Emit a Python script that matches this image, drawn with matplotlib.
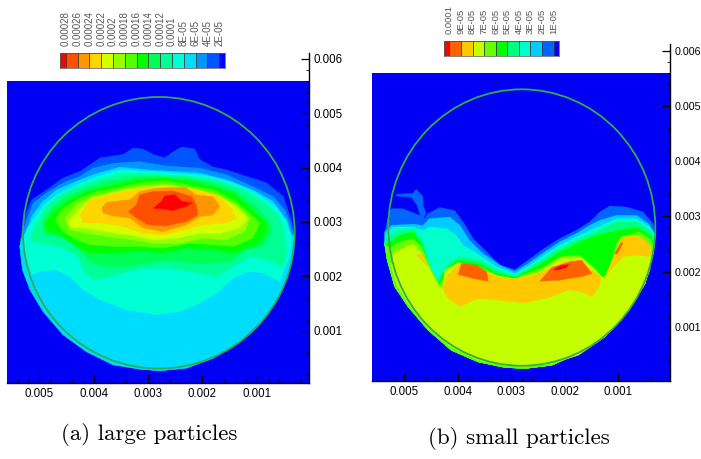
import numpy as np
import matplotlib
matplotlib.use("Agg")
import matplotlib.pyplot as plt

# contour outlines are in units of 1e-5 (tick values are 0.001 = 100 units)
UNIT = 1e-5
W, H = 701, 459

# ---- left panel: large particles
LEVELS_A = [0.00028, 0.00026, 0.00024, 0.00022, 0.0002, 0.00018, 0.00016,
            0.00014, 0.00012, 0.0001, 8e-05, 6e-05, 4e-05, 2e-05]
LABELS_A = ["0.00028", "0.00026", "0.00024", "0.00022", "0.0002", "0.00018", "0.00016",
            "0.00014", "0.00012", "0.0001", "8E-05", "6E-05", "4E-05", "2E-05"]
COLORS_A = ["#ff0000", "#ff5000", "#ff9500", "#ffd500", "#d4ff00", "#95ff00", "#55ff00",
            "#00ff00", "#00ff55", "#00ff95", "#00ffd5", "#00dcff", "#0095ff", "#0055ff", "#0000ff"]

low_a_x = [30, 33, 39, 58, 88, 131, 180, 229, 278, 315, 364, 413, 456, 493, 517, 531, 536]
low_a_y = [279, 255, 212, 163, 120, 80, 49, 31, 26, 29, 37, 61, 92, 135, 175, 212, 255]

a1_x = [532, 524, 514, 486, 456, 425, 407, 388, 346, 327, 309, 290, 269, 257, 238, 214, 205, 180, 156, 119, 82, 51, 45, 36, 30]
a1_y = [285, 316, 341, 359, 381, 393, 405, 418, 424, 436, 434, 424, 418, 427, 438, 434, 415, 401, 396, 384, 372, 347, 329, 304, 279]
a2_x = [533, 523, 511, 487, 456, 425, 401, 364, 315, 266, 205, 156, 113, 70, 48, 38, 32]
a2_y = [273, 304, 335, 353, 372, 384, 399, 408, 411, 403, 399, 387, 368, 347, 322, 298, 273]
a3_x = [533, 520, 514, 496, 468, 431, 401, 352, 303, 254, 205, 156, 107, 70, 45, 36]
a3_y = [267, 292, 310, 335, 359, 375, 387, 401, 396, 393, 390, 378, 359, 338, 304, 273]
a4_x = [531, 523, 511, 493, 468, 431, 395, 352, 303, 254, 192, 143, 101, 67, 45, 36, 40, 58, 88, 116, 143, 174, 205, 241, 284, 339, 389, 419, 444, 471, 496, 514, 523]
a4_y = [261, 286, 304, 329, 350, 368, 383, 396, 393, 390, 385, 372, 353, 329, 301, 273, 236, 190, 206, 209, 196, 169, 150, 135, 129, 138, 157, 175, 200, 212, 209, 203, 230]
a5_x = [514, 505, 487, 456, 419, 388, 339, 284, 229, 180, 131, 88, 64, 51, 45, 51, 82, 113, 143, 174, 223, 266, 303, 333, 370, 401, 416, 428, 456, 487, 514]
a5_y = [273, 298, 329, 353, 368, 379, 390, 387, 385, 378, 362, 338, 316, 286, 249, 218, 230, 236, 218, 200, 209, 215, 215, 209, 200, 195, 206, 236, 252, 260, 264]
a6_x = [493, 477, 450, 413, 370, 327, 278, 229, 180, 137, 101, 76, 73, 88, 119, 150, 180, 217, 266, 303, 339, 382, 407, 428, 456, 493]
a6_y = [301, 325, 347, 362, 375, 383, 384, 381, 372, 356, 329, 301, 279, 255, 249, 227, 225, 224, 230, 224, 218, 218, 227, 249, 270, 279]
a7_x = [490, 474, 444, 407, 364, 321, 272, 223, 180, 143, 107, 82, 82, 101, 143, 180, 229, 272, 315, 364, 407, 431, 456, 487]
a7_y = [298, 319, 341, 358, 368, 378, 381, 375, 365, 353, 322, 298, 279, 258, 243, 249, 252, 243, 246, 243, 243, 255, 273, 285]
a8_x = [471, 456, 431, 395, 358, 315, 272, 223, 180, 143, 113, 94, 107, 143, 180, 223, 272, 315, 364, 407, 431, 456]
a8_y = [304, 325, 341, 356, 362, 372, 376, 368, 359, 341, 316, 298, 270, 255, 258, 261, 252, 255, 255, 258, 267, 282]
a9_x = [453, 431, 401, 352, 309, 266, 217, 174, 137, 113, 122, 156, 199, 241, 284, 327, 376, 413, 444]
a9_y = [307, 332, 347, 359, 367, 369, 362, 350, 332, 307, 282, 267, 270, 261, 260, 267, 273, 279, 286]
a10_x = [447, 425, 401, 346, 266, 211, 168, 134, 116, 131, 168, 205, 248, 290, 327, 376, 419, 441]
a10_y = [298, 325, 344, 358, 367, 359, 347, 325, 307, 289, 279, 279, 270, 267, 275, 282, 289, 289]
a11_x = [425, 407, 346, 309, 260, 211, 174, 150, 137, 156, 199, 229, 272, 309, 346, 388, 419]
a11_y = [313, 341, 356, 362, 365, 359, 350, 329, 307, 298, 295, 286, 276, 279, 292, 298, 298]
a12_x = [385, 376, 333, 315, 284, 232, 211, 180, 168, 180, 205, 229, 272, 309, 333, 364, 382]
a12_y = [325, 336, 341, 356, 362, 364, 350, 346, 329, 313, 310, 295, 282, 289, 307, 311, 316]
a13_x = [336, 321, 315, 290, 254, 220, 211, 208, 229, 266, 300, 321]
a13_y = [319, 332, 350, 356, 357, 347, 332, 313, 301, 293, 295, 307]
a14_x = [290, 275, 269, 251, 238, 218, 229, 254, 272]
a14_y = [325, 338, 348, 350, 338, 335, 329, 321, 324]

# ---- right panel: small particles
LEVELS_B = [0.0001, 9e-05, 8e-05, 7e-05, 6e-05, 5e-05, 4e-05, 3e-05, 2e-05, 1e-05]
LABELS_B = ["0.0001", "9E-05", "8E-05", "7E-05", "6E-05", "5E-05", "4E-05", "3E-05", "2E-05", "1E-05"]
COLORS_B = ["#ff0000", "#ff6000", "#ffc800", "#c4ff00", "#66ff00", "#00ff00",
            "#00ff80", "#00ffcc", "#00ccff", "#0066ff", "#0000ff"]

low_b_x = [29, 34, 49, 81, 124, 174, 224, 274, 312, 362, 412, 456, 493, 518, 532, 537]
low_b_y = [275, 233, 179, 131, 86, 52, 31, 25, 27, 37, 58, 95, 137, 173, 221, 251]

b1_x = [536, 528, 524, 503, 471, 462, 456, 434, 406, 390, 371, 346, 321, 293, 268, 243, 209, 178, 153, 134, 115, 84, 53, 34, 29]
b1_y = [275, 308, 314, 314, 302, 296, 305, 316, 311, 290, 260, 236, 212, 204, 221, 239, 260, 275, 290, 308, 319, 317, 308, 287, 269]
wisp_x = [515, 484, 478, 465, 465, 459, 468, 471, 476, 487, 515]
wisp_y = [340, 342, 349, 336, 320, 305, 293, 305, 320, 335, 337]
b2_x = [537, 524, 484, 465, 453, 415, 396, 378, 353, 321, 293, 268, 243, 209, 178, 153, 134, 103, 65, 43, 31]
b2_y = [272, 284, 286, 284, 296, 299, 284, 257, 233, 212, 200, 215, 232, 254, 269, 284, 293, 302, 302, 287, 269]
b3_x = [534, 521, 484, 465, 453, 421, 403, 390, 359, 327, 293, 268, 243, 209, 171, 146, 131, 103, 65, 40, 31]
b3_y = [269, 281, 281, 275, 281, 278, 266, 248, 230, 209, 196, 210, 227, 248, 266, 278, 284, 296, 296, 281, 266]
b4_x = [534, 509, 484, 465, 453, 440, 428, 415, 396, 359, 327, 293, 268, 243, 209, 171, 140, 103, 65, 40, 32]
b4_y = [260, 275, 278, 254, 212, 182, 200, 218, 227, 221, 203, 192, 206, 221, 242, 260, 272, 290, 290, 275, 257]
b5_x = [530, 509, 484, 468, 453, 437, 421, 399, 359, 327, 293, 268, 243, 209, 171, 140, 99, 65, 40, 34]
b5_y = [251, 266, 272, 251, 209, 179, 206, 221, 215, 197, 190, 202, 215, 236, 254, 266, 275, 281, 266, 248]
b6_x = [527, 509, 484, 468, 449, 434, 421, 399, 359, 327, 293, 268, 243, 209, 171, 140, 131, 123, 115, 103, 93, 59, 37, 35]
b6_y = [242, 254, 260, 245, 203, 176, 200, 217, 209, 194, 187, 198, 206, 227, 230, 203, 191, 191, 209, 251, 263, 272, 257, 239]
b7_x = [521, 484, 468, 437, 428, 424, 399, 356, 324, 293, 249, 209, 171, 140, 129, 123, 112, 93, 62, 38, 40, 52, 81, 124, 174, 224, 274, 312, 362, 412, 456, 493, 515, 524]
b7_y = [233, 251, 233, 176, 170, 203, 216, 203, 192, 187, 198, 224, 227, 200, 190, 191, 215, 263, 266, 245, 203, 173, 128, 82, 49, 34, 29, 31, 41, 64, 98, 143, 179, 209]
b8_x = [428, 421, 396, 368, 324, 293, 249, 199, 174, 149, 132, 134, 149, 168, 193, 224, 274, 324, 362, 396, 418]
b8_y = [167, 191, 216, 209, 191, 187, 197, 218, 221, 203, 191, 176, 155, 164, 167, 155, 144, 149, 152, 137, 152]
b8r_x = [124, 106, 93, 74, 53, 39, 40, 71, 90, 109]
b8r_y = [191, 230, 260, 264, 260, 245, 228, 230, 227, 209]
b8l_x = [477, 468, 456, 468]
b8l_y = [230, 233, 209, 221]
b9l_x = [399, 393, 365, 346, 343, 371]
b9l_y = [195, 215, 212, 200, 183, 188]
b9r_x = [246, 224, 209, 190, 168, 149, 165, 209]
b9r_y = [183, 208, 212, 218, 221, 197, 192, 185]
b9s_x = [106, 93, 91, 101]
b9s_y = [233, 254, 251, 232]
b10_x = [221, 206, 192, 196, 212]
b10_y = [204, 212, 213, 208, 203]

LAYERS_A = [
    (np.r_[a1_x, low_a_x], np.r_[a1_y, low_a_y], "#0055ff"),
    (np.r_[a2_x, low_a_x], np.r_[a2_y, low_a_y], "#0095ff"),
    (np.r_[a3_x, low_a_x], np.r_[a3_y, low_a_y], "#00dcff"),
    (a4_x, a4_y, "#00ffd5"), (a5_x, a5_y, "#00ff95"), (a6_x, a6_y, "#00ff55"),
    (a7_x, a7_y, "#00ff00"), (a8_x, a8_y, "#55ff00"), (a9_x, a9_y, "#95ff00"),
    (a10_x, a10_y, "#d4ff00"), (a11_x, a11_y, "#ffd500"), (a12_x, a12_y, "#ff9500"),
    (a13_x, a13_y, "#ff5000"), (a14_x, a14_y, "#ff0000"),
]
LAYERS_B = [
    (np.r_[b1_x, low_b_x], np.r_[b1_y, low_b_y], "#0066ff"),
    (wisp_x, wisp_y, "#0066ff"),
    (np.r_[b2_x, low_b_x], np.r_[b2_y, low_b_y], "#00ccff"),
    (np.r_[b3_x, low_b_x], np.r_[b3_y, low_b_y], "#00ffcc"),
    (np.r_[b4_x, low_b_x], np.r_[b4_y, low_b_y], "#00ff80"),
    (np.r_[b5_x, low_b_x], np.r_[b5_y, low_b_y], "#00ff00"),
    (np.r_[b6_x, low_b_x], np.r_[b6_y, low_b_y], "#66ff00"),
    (b7_x, b7_y, "#c4ff00"),
    (b8_x, b8_y, "#ffc800"), (b8r_x, b8r_y, "#ffc800"), (b8l_x, b8l_y, "#ffc800"),
    (b9l_x, b9l_y, "#ff6000"), (b9r_x, b9r_y, "#ff6000"), (b9s_x, b9s_y, "#ff6000"),
    (b10_x, b10_y, "#ff0000"),
]

XTICKS = [0.005, 0.004, 0.003, 0.002, 0.001]
YTICKS = [0.001, 0.002, 0.003, 0.004, 0.005, 0.006]
CIRCLE_X, CIRCLE_Y, CIRCLE_R = 0.0028, 0.0028, 0.0025

plt.rcParams["font.family"] = "Liberation Sans"
fig = plt.figure(figsize=(W / 100, H / 100), dpi=100, facecolor="white")


def px_axes(left, top, right, bottom):
    # axes position from pixel box
    return fig.add_axes([left / W, 1 - bottom / H, (right - left) / W, (bottom - top) / H])


def draw_panel(box, xlim, ylim, image_top, layers, ylabel_size):
    ax = px_axes(*box)
    ax.patch.set_visible(False)
    ax.set_xlim(*xlim)
    ax.set_ylim(*ylim)
    ax.fill([xlim[0], xlim[1], xlim[1], xlim[0]], [ylim[0], ylim[0], image_top, image_top],
            color="#0000f5", lw=0, zorder=0)
    for xs, ys, col in layers:
        ax.fill(np.asarray(xs) * UNIT, np.asarray(ys) * UNIT, color=col, lw=0.3, zorder=1)
    ax.add_patch(plt.Circle((CIRCLE_X, CIRCLE_Y), CIRCLE_R, fill=False, ec="#2fae4f", lw=1.3, zorder=2))
    ax.spines["top"].set_visible(False)
    ax.spines["left"].set_visible(False)
    ax.spines["right"].set_linewidth(1.0)
    ax.spines["bottom"].set_linewidth(1.0)
    ax.set_xticks(XTICKS, [str(t) for t in XTICKS])
    ax.set_yticks(YTICKS, [str(t) for t in YTICKS])
    ax.set_xticks(np.arange(0.0002, 0.0056, 0.0002), minor=True)
    ax.set_yticks(np.arange(0.0002, 0.0061, 0.0002), minor=True)
    ax.yaxis.tick_right()
    ax.tick_params(axis="both", which="major", direction="in", length=6, width=0.9, labelsize=8.3, pad=4)
    ax.tick_params(axis="y", which="major", labelsize=ylabel_size, pad=3)
    ax.tick_params(axis="both", which="minor", direction="in", length=2.5, width=0.6)
    return ax


def draw_colorbar(box, levels, labels, colors, lo, hi, fontsize, pad):
    ax = px_axes(*box)
    edges = np.r_[hi, levels, lo]
    ax.bar(edges[:-1], 1, width=np.diff(edges), align="edge", color=colors, edgecolor="#333333", linewidth=0.5)
    ax.set_xlim(hi, lo)
    ax.set_ylim(0, 1)
    ax.set_yticks([])
    ax.xaxis.tick_top()
    ax.set_xticks(levels, labels, rotation=90, color="#555555", fontsize=fontsize)
    ax.tick_params(axis="x", length=0, pad=pad)
    for s in ax.spines.values():
        s.set_linewidth(0.5)
        s.set_color("#555555")


draw_panel((6.7, 53, 309, 382.7), (0.0056, 0.000037), (0.00004, 0.00611), 0.0056, LAYERS_A, 8.3)
draw_panel((372.3, 44, 670, 380.7), (0.0056, 0.000025), (0.00003, 0.00612), 0.0056, LAYERS_B, 7.7)
draw_colorbar((60, 52.7, 225, 67.7), LEVELS_A, LABELS_A, COLORS_A, 1e-05, 0.00029, 7, 4.5)
draw_colorbar((443.7, 41, 559.3, 56), LEVELS_B, LABELS_B, COLORS_B, 5e-06, 0.000105, 6.8, 5)

fig.text(149 / W, 1 - 434 / H, "(a) large particles", family="cmr10", fontsize=16.5, ha="center", va="center")
fig.text(519 / W, 1 - 439 / H, "(b) small particles", family="cmr10", fontsize=16.5, ha="center", va="center")

fig.savefig("out.png", dpi=100)
